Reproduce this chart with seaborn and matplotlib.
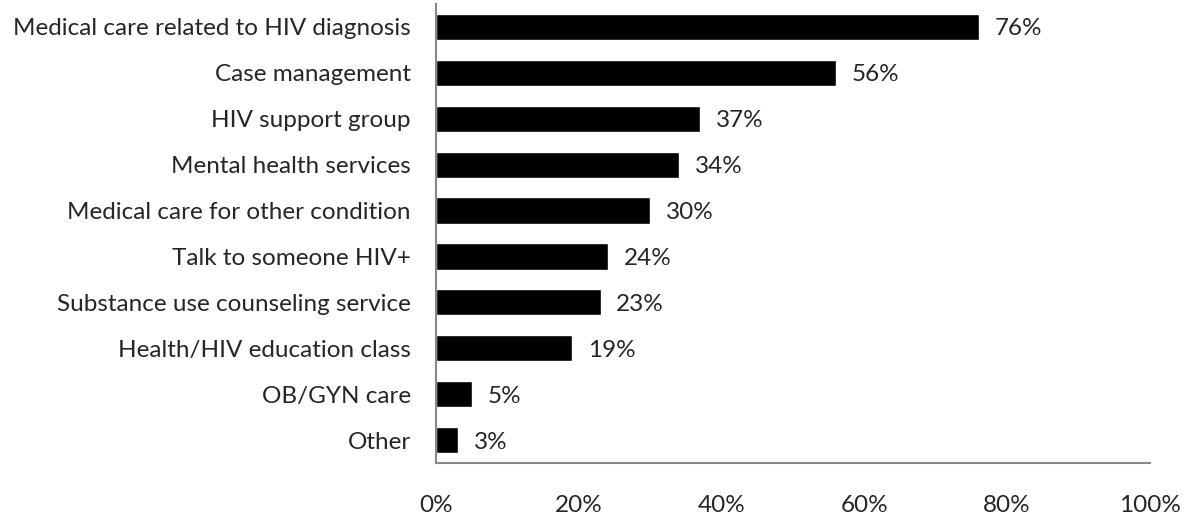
import matplotlib
matplotlib.use("Agg")
import matplotlib.pyplot as plt
import seaborn as sns
import pandas as pd
from matplotlib.ticker import FuncFormatter

categories = ["Medical care related to HIV diagnosis", "Case management", "HIV support group",
              "Mental health services", "Medical care for other condition", "Talk to someone HIV+",
              "Substance use counseling service", "Health/HIV education class", "OB/GYN care", "Other"]
values = [76, 56, 37, 34, 30, 24, 23, 19, 5, 3]
xticks = [0, 20, 40, 60, 80, 100]

sns.set_theme(style="white")
plt.rcParams['font.family'] = ['Lato', 'DejaVu Sans']

df = pd.DataFrame({"cat": categories, "val": values})
fig = plt.figure(figsize=(11.88, 5.2), dpi=100)
ax = fig.add_axes([0.3674, 0.1096, 0.6005, 0.8827])
sns.barplot(data=df, y="cat", x="val", color="black", orient="h", width=0.57, ax=ax, saturation=1)
ax.set_xlim(0, 100)
ax.set_xticks(xticks)
ax.xaxis.set_major_formatter(FuncFormatter(lambda v, p: f"{int(v)}%"))
ax.set_xlabel("")
ax.set_ylabel("")
ax.tick_params(axis="x", length=0, pad=23, labelsize=17.5)
ax.tick_params(axis="y", length=0, pad=18.5, labelsize=17.5)
for s in ["top", "right"]:
    ax.spines[s].set_visible(False)
for s in ["left", "bottom"]:
    ax.spines[s].set_color("#888888")
    ax.spines[s].set_linewidth(1.5)
for i, v in enumerate(values):
    ax.text(v + 2.2, i, f"{v}%", va="center_baseline", ha="left", fontsize=17.5)
fig.savefig("out.png", dpi=100)
